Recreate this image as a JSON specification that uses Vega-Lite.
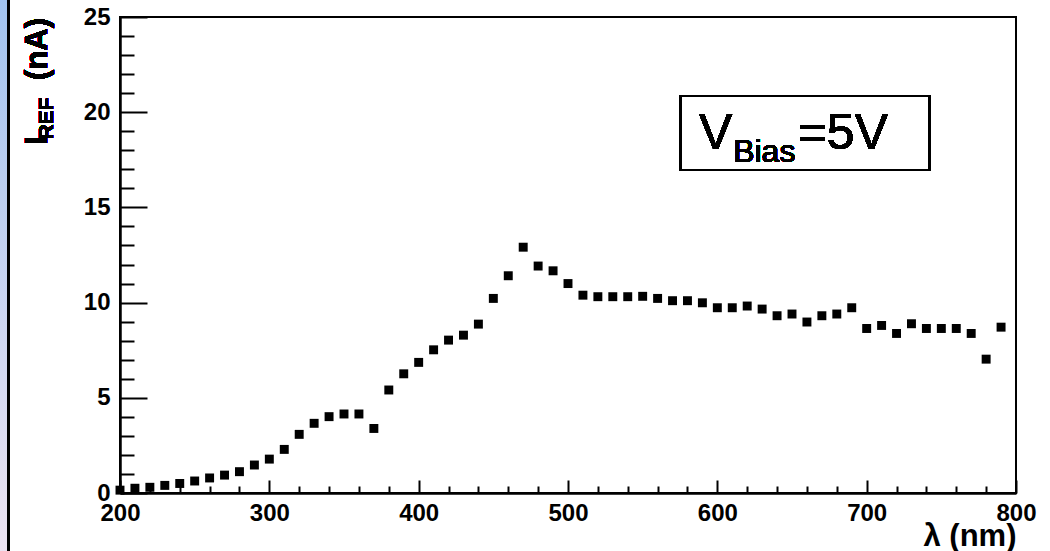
{
  "$schema": "https://vega.github.io/schema/vega-lite/v6.json",
  "width": 896,
  "height": 476,
  "autosize": {"type": "none"},
  "padding": {"left": 120, "top": 17, "right": 34, "bottom": 58},
  "background": "white",
  "config": {
    "view": {"stroke": "black", "strokeWidth": 2},
    "font": "Liberation Sans"
  },
  "data": {
    "values": [
      {"wavelength": 200, "current": 0.15}, {"wavelength": 210, "current": 0.25}, {"wavelength": 220, "current": 0.3},
      {"wavelength": 230, "current": 0.4}, {"wavelength": 240, "current": 0.5}, {"wavelength": 250, "current": 0.63},
      {"wavelength": 260, "current": 0.79}, {"wavelength": 270, "current": 0.94}, {"wavelength": 280, "current": 1.12},
      {"wavelength": 290, "current": 1.47}, {"wavelength": 300, "current": 1.78}, {"wavelength": 310, "current": 2.29},
      {"wavelength": 320, "current": 3.08}, {"wavelength": 330, "current": 3.66}, {"wavelength": 340, "current": 4.01},
      {"wavelength": 350, "current": 4.15}, {"wavelength": 360, "current": 4.15}, {"wavelength": 370, "current": 3.39},
      {"wavelength": 380, "current": 5.41}, {"wavelength": 390, "current": 6.26}, {"wavelength": 400, "current": 6.86},
      {"wavelength": 410, "current": 7.52}, {"wavelength": 420, "current": 8.03}, {"wavelength": 430, "current": 8.29},
      {"wavelength": 440, "current": 8.87}, {"wavelength": 450, "current": 10.22}, {"wavelength": 460, "current": 11.41},
      {"wavelength": 470, "current": 12.91}, {"wavelength": 480, "current": 11.92}, {"wavelength": 490, "current": 11.67},
      {"wavelength": 500, "current": 11.0}, {"wavelength": 510, "current": 10.39}, {"wavelength": 520, "current": 10.31},
      {"wavelength": 530, "current": 10.31}, {"wavelength": 540, "current": 10.31}, {"wavelength": 550, "current": 10.33},
      {"wavelength": 560, "current": 10.22}, {"wavelength": 570, "current": 10.1}, {"wavelength": 580, "current": 10.1},
      {"wavelength": 590, "current": 9.99}, {"wavelength": 600, "current": 9.73}, {"wavelength": 610, "current": 9.73},
      {"wavelength": 620, "current": 9.82}, {"wavelength": 630, "current": 9.66}, {"wavelength": 640, "current": 9.31},
      {"wavelength": 650, "current": 9.4}, {"wavelength": 660, "current": 8.98}, {"wavelength": 670, "current": 9.31},
      {"wavelength": 680, "current": 9.4}, {"wavelength": 690, "current": 9.73}, {"wavelength": 700, "current": 8.64},
      {"wavelength": 710, "current": 8.8}, {"wavelength": 720, "current": 8.38}, {"wavelength": 730, "current": 8.89},
      {"wavelength": 740, "current": 8.64}, {"wavelength": 750, "current": 8.64}, {"wavelength": 760, "current": 8.64},
      {"wavelength": 770, "current": 8.38}, {"wavelength": 780, "current": 7.03}, {"wavelength": 790, "current": 8.71}
    ]
  },
  "layer": [
    {
      "mark": {"type": "point", "shape": "square", "filled": true, "size": 80, "color": "black", "opacity": 1},
      "encoding": {
        "x": {
          "field": "wavelength", "type": "quantitative",
          "scale": {"domain": [200, 800], "nice": false, "zero": false},
          "axis": {
            "title": "λ (nm)",
            "values": [200,220,240,260,280,300,320,340,360,380,400,420,440,460,480,500,520,540,560,580,600,620,640,660,680,700,720,740,760,780,800],
            "tickCount": 200,
            "labelExpr": "datum.value % 100 === 0 ? datum.label : ''",
            "format": "d",
            "tickSize": {"condition": {"test": "datum.value % 100 === 0", "value": -13}, "value": -7},
            "grid": false,
            "domainColor": "black", "domainWidth": 2.5,
            "tickColor": "black", "tickWidth": 2,
            "labelFont": "Liberation Sans", "labelFontWeight": "bold", "labelFontSize": 24, "labelColor": "black",
            "labelPadding": 21, "labelOverlap": false, "labelFlush": false, "labelBound": false,
            "titleFont": "Liberation Sans", "titleFontSize": 31, "titleFontWeight": "bold", "titleColor": "black",
            "titleAnchor": "end", "titleAlign": "right", "titleBaseline": "alphabetic", "titleY": 52
          }
        },
        "y": {
          "field": "current", "type": "quantitative",
          "scale": {"domain": [0, 25], "nice": false, "zero": true},
          "axis": {
            "title": null,
            "values": [0,1,2,3,4,5,6,7,8,9,10,11,12,13,14,15,16,17,18,19,20,21,22,23,24,25],
            "tickCount": 200,
            "labelExpr": "datum.value % 5 === 0 ? datum.label : ''",
            "format": "d",
            "tickSize": {"condition": {"test": "datum.value % 5 === 0", "value": -27}, "value": -14},
            "grid": false,
            "domainColor": "black", "domainWidth": 2.5,
            "tickColor": "black", "tickWidth": 2,
            "labelFont": "Liberation Sans", "labelFontWeight": "bold", "labelFontSize": 24, "labelColor": "black",
            "labelPadding": 37, "labelOverlap": false, "labelFlush": false, "labelBound": false
          }
        }
      }
    },
    {
      "mark": {"type": "rect", "fill": {"gradient": "linear", "x1": 0, "y1": 0, "x2": 0, "y2": 1, "stops": [{"offset": 0, "color": "#a2c3ef"}, {"offset": 1, "color": "#ece3f2"}]}},
      "encoding": {
        "x": {"datum": 119.6, "type": "quantitative"},
        "x2": {"datum": 125.0},
        "y": {"datum": 25.9, "type": "quantitative"},
        "y2": {"datum": -3.1}
      }
    },
    {
      "mark": {"type": "rule", "color": "black", "strokeWidth": 2},
      "encoding": {
        "x": {"datum": 125.4, "type": "quantitative"},
        "y": {"datum": 25.9, "type": "quantitative"},
        "y2": {"datum": -3.1}
      }
    },
    {
      "mark": {"type": "rect", "fill": "transparent", "stroke": "black", "strokeWidth": 2},
      "encoding": {
        "x": {"datum": 575.6, "type": "quantitative"},
        "x2": {"datum": 742.1},
        "y": {"datum": 20.85, "type": "quantitative"},
        "y2": {"datum": 16.96}
      }
    },
    {
      "mark": {"type": "text", "text": "V", "font": "Liberation Sans", "fontSize": 50, "align": "left", "baseline": "alphabetic", "color": "black"},
      "encoding": {"x": {"datum": 587.8, "type": "quantitative"}, "y": {"datum": 18.05, "type": "quantitative"}}
    },
    {
      "mark": {"type": "text", "text": "Bias", "font": "Liberation Sans", "fontWeight": "normal", "fontSize": 32, "align": "left", "baseline": "alphabetic", "color": "black"},
      "encoding": {"x": {"datum": 610.6, "type": "quantitative"}, "y": {"datum": 17.4, "type": "quantitative"}}
    },
    {
      "mark": {"type": "text", "text": "=5V", "font": "Liberation Sans", "fontSize": 50, "align": "left", "baseline": "alphabetic", "color": "black"},
      "encoding": {"x": {"datum": 653.8, "type": "quantitative"}, "y": {"datum": 18.05, "type": "quantitative"}}
    },
    {
      "mark": {"type": "text", "text": "I", "font": "Liberation Sans", "fontWeight": "bold", "fontSize": 32, "angle": 270, "align": "left", "baseline": "alphabetic", "color": "black"},
      "encoding": {"x": {"datum": 151.1, "type": "quantitative"}, "y": {"datum": 18.27, "type": "quantitative"}}
    },
    {
      "mark": {"type": "text", "text": "REF", "font": "Liberation Sans", "fontWeight": "bold", "fontSize": 21, "angle": 270, "align": "left", "baseline": "alphabetic", "color": "black"},
      "encoding": {"x": {"datum": 155.1, "type": "quantitative"}, "y": {"datum": 18.56, "type": "quantitative"}}
    },
    {
      "mark": {"type": "text", "text": "(nA)", "font": "Liberation Sans", "fontWeight": "bold", "fontSize": 31, "angle": 270, "align": "right", "baseline": "alphabetic", "color": "black"},
      "encoding": {"x": {"datum": 151.1, "type": "quantitative"}, "y": {"datum": 24.95, "type": "quantitative"}}
    }
  ]
}
